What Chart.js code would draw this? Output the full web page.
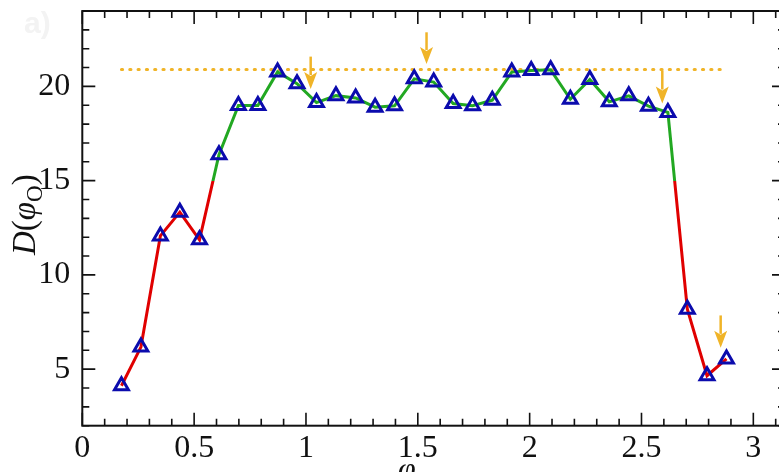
<!DOCTYPE html>
<html>
<head>
<meta charset="utf-8">
<script src="https://cdn.jsdelivr.net/npm/chart.js@4.4.1/dist/chart.umd.min.js"></script>
<style>
  html, body { margin: 0; padding: 0; overflow: hidden; background: #fff; }
  #wrap { width: 800px; height: 472px; position: relative; }
</style>
</head>
<body>
<div id="wrap"><canvas id="chart"></canvas></div>
<script>
// angle (rad) and D(phi_O)
const phi = [
  0.175, 0.262, 0.349, 0.436, 0.524, 0.611, 0.698, 0.785,
  0.873, 0.960, 1.047, 1.134, 1.222, 1.309, 1.396, 1.484,
  1.571, 1.658, 1.745, 1.833, 1.920, 2.007, 2.094, 2.182,
  2.269, 2.356, 2.443, 2.531, 2.618, 2.705, 2.793, 2.880,
];
const dPhi = [
  4.12, 6.17, 12.07, 13.33, 11.86, 16.38, 18.99, 18.99,
  20.77, 20.14, 19.14, 19.51, 19.39, 18.90, 18.97, 20.40,
  20.23, 19.09, 18.97, 19.27, 20.76, 20.84, 20.88, 19.32,
  20.37, 19.18, 19.50, 18.95, 18.62, 8.18, 4.65, 5.54,
];
const xTickValues = [0, 0.5, 1, 1.5, 2, 2.5, 3];
const yTickValues = [5, 10, 15, 20];

// dotted plateau level
const plateauX = [0.175, 2.88];
const plateauLevel = 20.9;

// arrows (x, tail y, tip y)
const arrowX = [1.021, 1.539, 2.593, 2.854];
const arrowTail = [21.58, 22.87, 20.84, 7.85];
const arrowTip = [19.86, 21.19, 19.09, 6.13];

const threshold = 15;

const RED = "#e00000";
const GREEN = "#22a822";
const BLUE = "#0b0bad";
const ORANGE = "#f0b428";
const SERIF = '"Liberation Serif", "Times New Roman", serif';

function splitColour(context) {
  const chart = context.chart;
  const area = chart.chartArea;
  if (!area) return RED;
  const yPix = chart.scales.y.getPixelForValue(threshold);
  const g = chart.ctx.createLinearGradient(0, area.bottom, 0, area.top);
  const s = Math.min(1, Math.max(0, (area.bottom - yPix) / (area.bottom - area.top)));
  g.addColorStop(0, RED);
  g.addColorStop(s, RED);
  g.addColorStop(s, GREEN);
  g.addColorStop(1, GREEN);
  return g;
}

const framePlugin = {
  id: "frame",
  afterDatasetsDraw(chart) {
    const { ctx, chartArea: a, scales } = chart;
    const x = scales.x, y = scales.y;
    ctx.save();

    // arrows
    ctx.strokeStyle = ORANGE;
    ctx.fillStyle = ORANGE;
    ctx.lineWidth = 2.5;
    for (let i = 0; i < arrowX.length; i++) {
      const px = x.getPixelForValue(arrowX[i]);
      const y0 = y.getPixelForValue(arrowTail[i]);
      const y1 = y.getPixelForValue(arrowTip[i]);
      const head = 17;
      ctx.beginPath();
      ctx.moveTo(px, y0);
      ctx.lineTo(px, y1 - head + 3);
      ctx.stroke();
      ctx.beginPath();
      ctx.moveTo(px, y1);
      ctx.lineTo(px - 6.5, y1 - head);
      ctx.lineTo(px, y1 - head + 4);
      ctx.lineTo(px + 6.5, y1 - head);
      ctx.closePath();
      ctx.fill();
    }

    // frame
    ctx.strokeStyle = "#111";
    ctx.lineWidth = 2;
    ctx.strokeRect(a.left, a.top, a.right - a.left, a.bottom - a.top);

    // inward ticks on all four sides
    ctx.lineWidth = 1.6;
    ctx.beginPath();
    for (let i = 0; i <= 31; i++) {
      const px = x.getPixelForValue(i / 10);
      const len = i % 5 === 0 ? 13 : 7;
      ctx.moveTo(px, a.bottom);
      ctx.lineTo(px, a.bottom - len);
      ctx.moveTo(px, a.top);
      ctx.lineTo(px, a.top + len);
    }
    for (let v = 2; v <= 24; v++) {
      const py = y.getPixelForValue(v);
      const len = v % 5 === 0 ? 13 : 7;
      ctx.moveTo(a.left, py);
      ctx.lineTo(a.left + len, py);
      ctx.moveTo(a.right, py);
      ctx.lineTo(a.right - len, py);
    }
    ctx.stroke();
    ctx.restore();
  },
  afterDraw(chart) {
    const ctx = chart.ctx;
    ctx.save();
    ctx.fillStyle = "#111";
    ctx.textBaseline = "alphabetic";

    // y title D(phi_O), rotated
    ctx.translate(35, 255);
    ctx.rotate(-Math.PI / 2);
    let cx = 0;
    const parts = [
      ["D", "italic 33px " + SERIF, 0],
      ["(", "33px " + SERIF, 0],
      ["\u03c6", "italic 33px " + SERIF, 0],
      ["O", "23px " + SERIF, 7],
      [")", "33px " + SERIF, 0],
    ];
    for (const [t, f, dy] of parts) {
      ctx.font = f;
      ctx.fillText(t, cx, dy);
      cx += ctx.measureText(t).width;
    }
    ctx.restore();

    // x title, mostly below the visible area
    ctx.save();
    ctx.fillStyle = "#111";
    ctx.font = "italic 32px " + SERIF;
    ctx.fillText("\u03c6", 398, 479);
    ctx.font = "22px " + SERIF;
    ctx.fillText("O", 416, 486);

    // faint panel tag
    ctx.fillStyle = "#f3f3f3";
    ctx.font = 'bold 30px "Liberation Sans", sans-serif';
    ctx.fillText("a)", 24, 33);
    ctx.restore();
  },
};

new Chart(document.getElementById("chart"), {
  type: "line",
  data: {
    datasets: [
      {
        label: "D",
        data: phi.map((v, i) => ({ x: v, y: dPhi[i] })),
        borderColor: splitColour,
        borderWidth: 3,
        tension: 0,
        pointStyle: "triangle",
        pointRadius: 8,
        pointHoverRadius: 8,
        pointBorderWidth: 3,
        pointBorderColor: BLUE,
        pointBackgroundColor: "rgba(0,0,0,0)",
      },
      {
        label: "plateau",
        data: plateauX.map((v) => ({ x: v, y: plateauLevel })),
        borderColor: ORANGE,
        borderWidth: 3,
        borderDash: [1.2, 7.1],
        borderCapStyle: "round",
        pointRadius: 0,
      },
    ],
  },
  options: {
    responsive: true,
    maintainAspectRatio: false,
    animation: false,
    layout: { padding: { left: 0, top: 7, right: 15, bottom: 0 } },
    plugins: { legend: { display: false }, tooltip: { enabled: false } },
    scales: {
      x: {
        type: "linear",
        min: 0,
        max: 3.1416,
        grid: { display: false, drawTicks: false },
        border: { display: false },
        afterBuildTicks: (axis) => {
          axis.ticks = xTickValues.map((v) => ({ value: v }));
        },
        afterFit: (scale) => {
          scale.height = 46.3;
          scale.paddingLeft = 0;
          scale.paddingRight = 0;
        },
        ticks: {
          autoSkip: false,
          maxRotation: 0,
          padding: 4,
          color: "#111",
          font: { family: SERIF, size: 32 },
          callback: (v) => String(v),
        },
      },
      y: {
        min: 2,
        max: 24,
        grid: { display: false, drawTicks: false },
        border: { display: false },
        afterBuildTicks: (axis) => {
          axis.ticks = yTickValues.map((v) => ({ value: v }));
        },
        afterFit: (scale) => {
          scale.width = 82.3;
          scale.paddingTop = 0;
          scale.paddingBottom = 0;
        },
        ticks: {
          autoSkip: false,
          padding: 12,
          color: "#111",
          font: { family: SERIF, size: 32 },
          callback: (v) => String(v),
        },
      },
    },
  },
  plugins: [framePlugin],
});
</script>
</body>
</html>
